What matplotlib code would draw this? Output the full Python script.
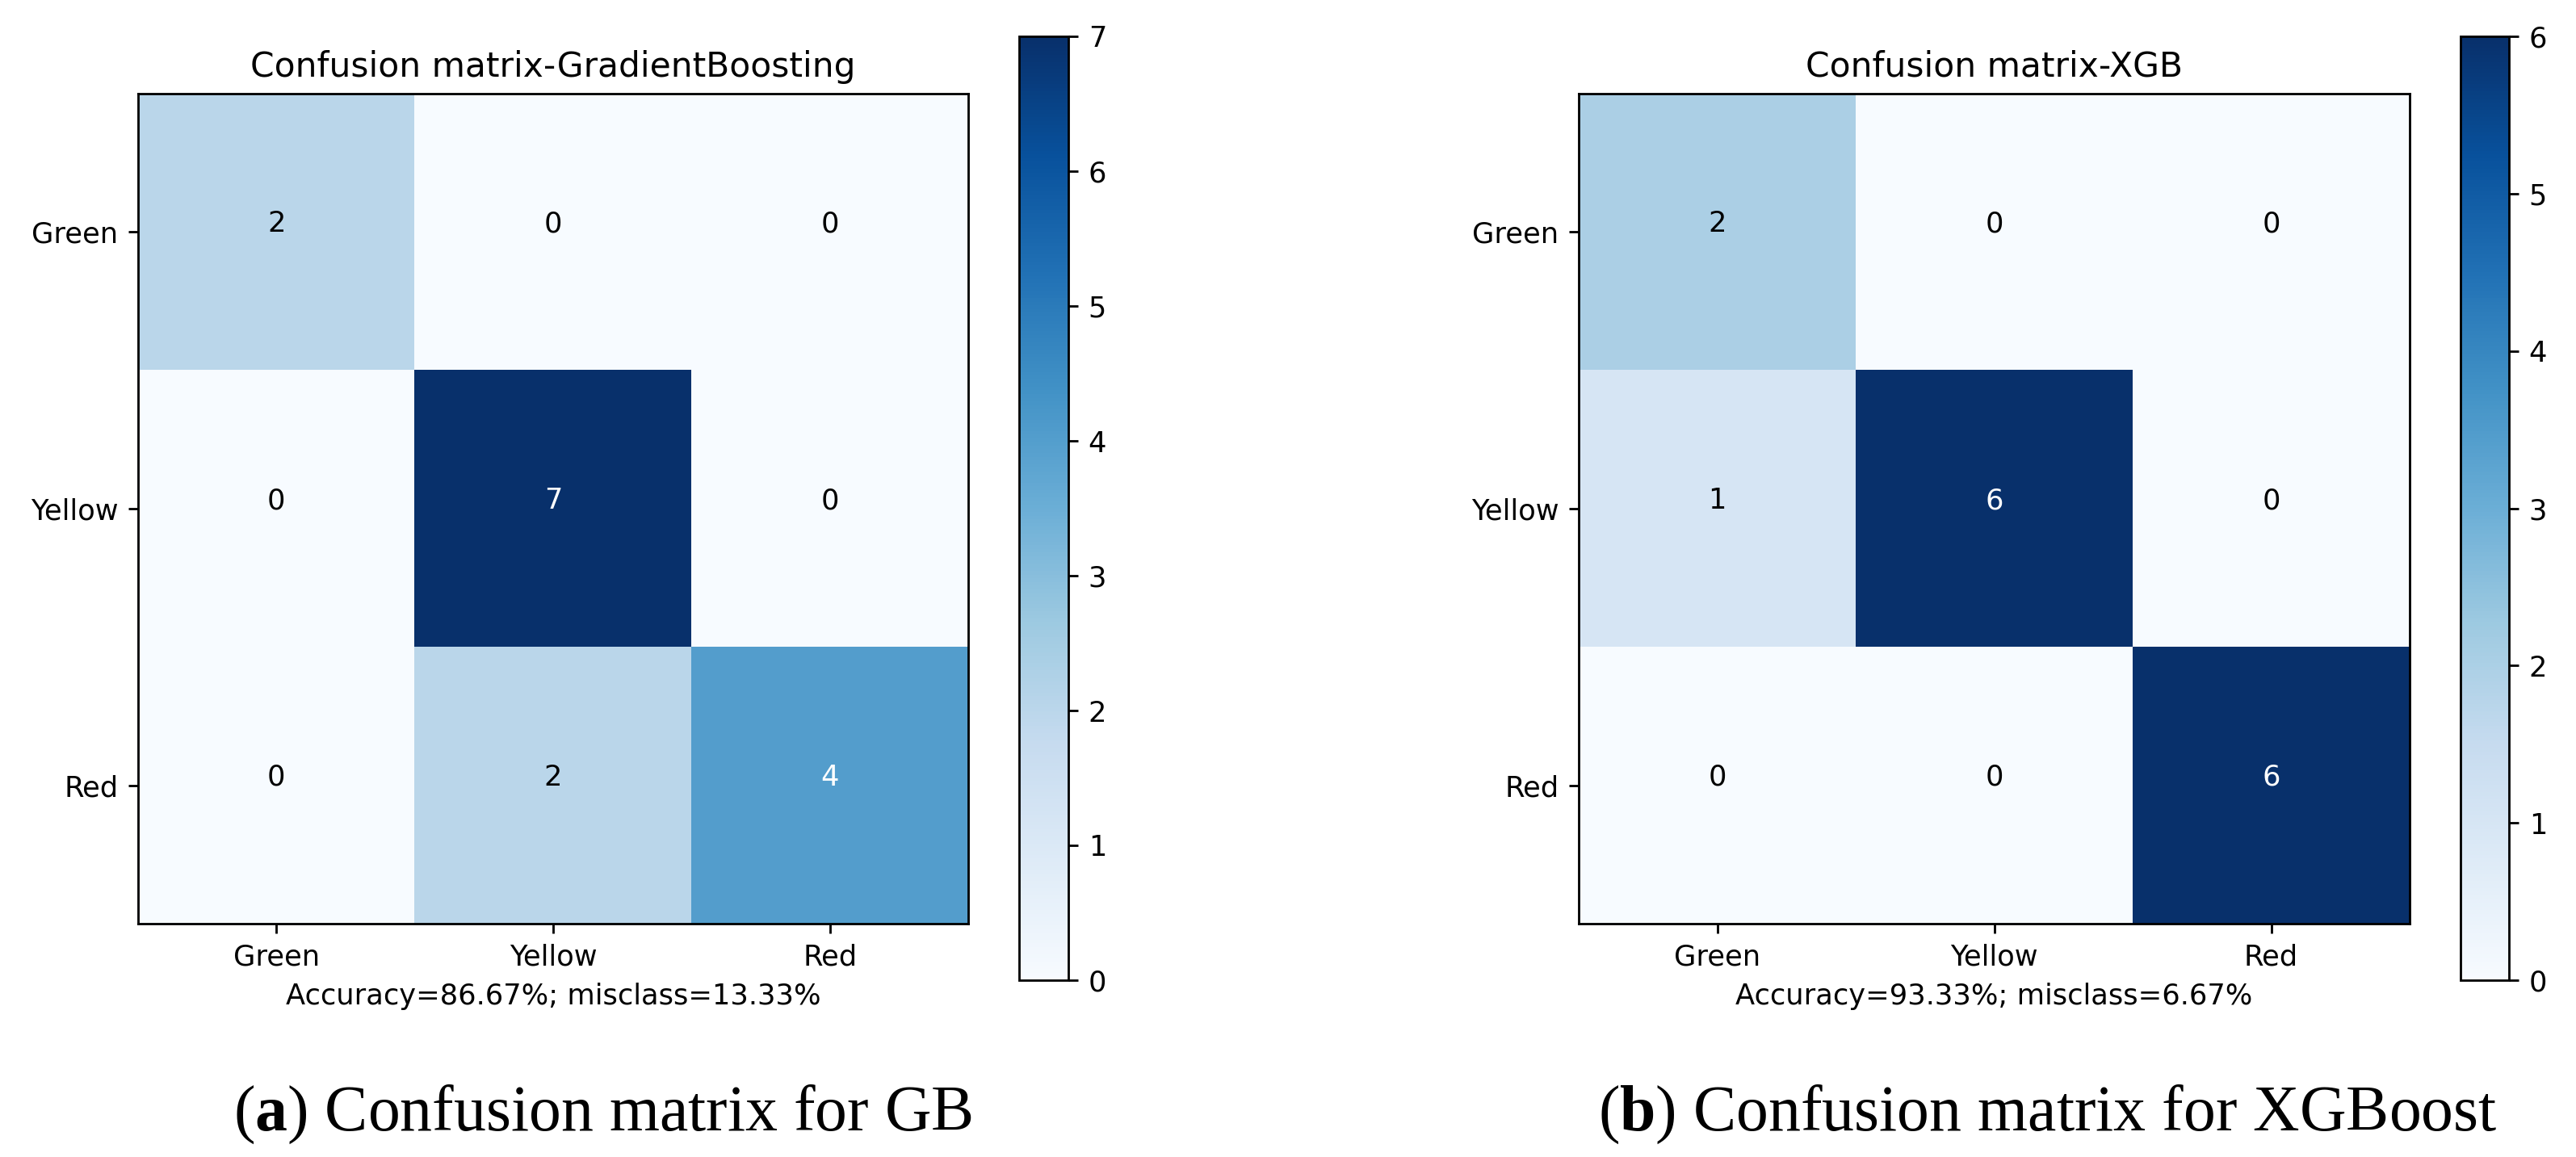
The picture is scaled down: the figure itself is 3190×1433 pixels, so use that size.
import numpy as np
import matplotlib
matplotlib.use("Agg")
import matplotlib.pyplot as plt

# ---------------- data ----------------
class_names = ["Green", "Yellow", "Red"]

cm_gb = np.array([[2, 0, 0],
                  [0, 7, 0],
                  [0, 2, 4]])
cm_xgb = np.array([[2, 0, 0],
                   [1, 6, 0],
                   [0, 0, 6]])

titles = ["Confusion matrix-GradientBoosting", "Confusion matrix-XGB"]
xlabels = ["Accuracy=86.67%; misclass=13.33%", "Accuracy=93.33%; misclass=6.67%"]
captions = [r"($\mathbf{a}$) Confusion matrix for GB",
            r"($\mathbf{b}$) Confusion matrix for XGBoost"]

# ---------------- style ----------------
plt.rcParams["font.family"] = ["DejaVu Sans"]
plt.rcParams["mathtext.fontset"] = "custom"
plt.rcParams["mathtext.rm"] = "Liberation Serif"
plt.rcParams["mathtext.bf"] = "Liberation Serif:bold"

W, H = 3190, 1433
DPI = 254
fig = plt.figure(figsize=(W / DPI, H / DPI), dpi=DPI)


def px_axes(x0, y0, x1, y1):
    return [x0 / W, (H - y1) / H, (x1 - x0) / W, (y1 - y0) / H]


layout = [
    dict(ax=(171, 116, 1199, 1144), cb=(1262, 45, 1323, 1214), cap=(289, 1400)),
    dict(ax=(1955, 116, 2984, 1144), cb=(3047, 45, 3107, 1214), cap=(1979, 1400)),
]

for cm, title, xl, cap, lay in zip([cm_gb, cm_xgb], titles, xlabels, captions, layout):
    ax = fig.add_axes(px_axes(*lay["ax"]))
    cax = fig.add_axes(px_axes(*lay["cb"]))
    vmax = cm.max()
    im = ax.imshow(cm, interpolation="nearest", cmap="Blues", aspect="auto",
                   vmin=0, vmax=vmax)
    ax.set_title(title, fontsize=12)
    ticks = np.arange(len(class_names))
    ax.set_xticks(ticks)
    ax.set_xticklabels(class_names)
    ax.set_yticks(ticks)
    ax.set_yticklabels(class_names)
    thresh = cm.max() / 2
    for i in range(cm.shape[0]):
        for j in range(cm.shape[1]):
            ax.text(j, i, "{:,}".format(cm[i, j]), ha="center",
                    color="white" if cm[i, j] > thresh else "black")
    ax.set_xlabel(xl)
    cb = fig.colorbar(im, cax=cax, ticks=np.arange(vmax + 1))

    cx, cy = lay["cap"]
    fig.text(cx / W, (H - cy) / H, cap, ha="left", va="baseline",
             fontsize=22.6, family="Liberation Serif")

fig.savefig("out.png", dpi=DPI)
